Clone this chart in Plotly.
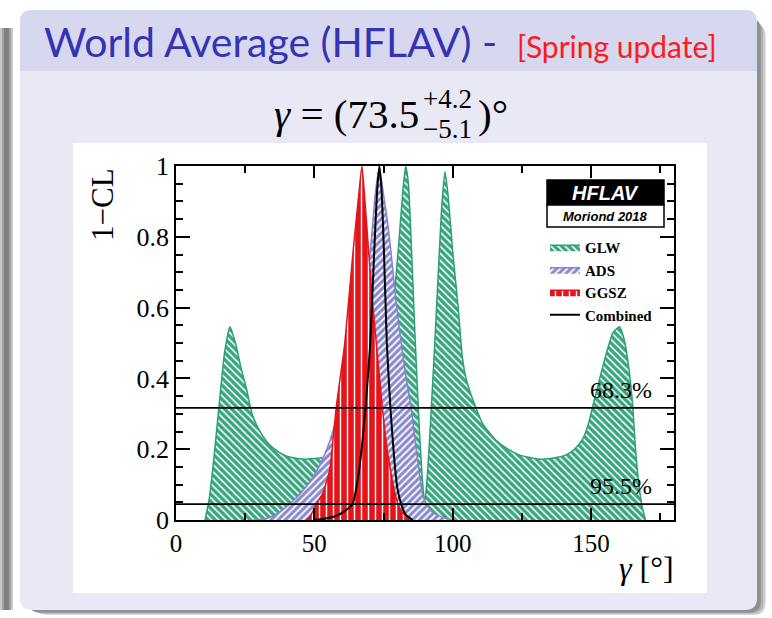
import plotly.graph_objects as go

W, H = 772, 618

# ---------------- data ----------------
glw_gamma = [10.5, 12, 13.5, 15.5, 17.5, 19.5, 21.5, 23.5, 25.5, 27.5, 30, 33, 36.5, 40, 46, 52,
             55.5, 59, 62.5, 66, 68.5, 70.5, 72.5, 74.5, 76.5, 78.5, 80.5, 82, 83, 84, 85.2, 86.5,
             88, 89, 89.8, 90.6, 91.6, 93, 94.5, 96, 97.2, 98.3, 100, 102, 103.5, 105, 108.4,
             111, 115.6, 120, 124, 131, 137, 141, 144, 146.8, 149, 150.5, 153, 155.5, 158, 160.3,
             162, 163.5, 165, 166, 167.3, 168.5, 169.7]
glw_cl = [0.0, 0.06, 0.16, 0.317, 0.47, 0.546, 0.5, 0.43, 0.37, 0.3, 0.255, 0.22, 0.195, 0.18, 0.172, 0.175,
          0.179, 0.188, 0.2, 0.22, 0.245, 0.275, 0.317, 0.39, 0.48, 0.6, 0.78, 0.93, 1.0, 0.95, 0.75, 0.5,
          0.25, 0.12, 0.05, 0.1, 0.22, 0.42, 0.65, 0.88, 0.984, 0.92, 0.76, 0.6, 0.46, 0.395, 0.317,
          0.27, 0.226, 0.2, 0.184, 0.172, 0.176, 0.184, 0.2, 0.226, 0.27, 0.317, 0.395, 0.47, 0.53, 0.546,
          0.51, 0.44, 0.33, 0.21, 0.1, 0.038, 0.0]

ads_gamma = [28, 33, 37, 41, 45, 49, 52, 55.5, 59, 62, 65.2, 68, 70.5, 72, 73.5, 75, 76.5, 77.8, 79.5,
             81.4, 83.2, 85, 86.5, 88, 89, 90.5, 93, 97, 100]
ads_cl = [0.0, 0.005, 0.02, 0.045, 0.075, 0.115, 0.155, 0.22, 0.317, 0.4, 0.5, 0.63, 0.78, 0.92, 0.995, 0.92,
          0.84, 0.75, 0.62, 0.5, 0.4, 0.317, 0.22, 0.13, 0.076, 0.045, 0.02, 0.006, 0.0]

ggsz_gamma = [47, 48.5, 50.7, 53, 55.5, 57.9, 61, 63.9, 66.2, 67.2, 68.3, 69.7, 71, 72.4, 74.6, 76.3,
              78, 79, 80.2, 82, 85.5]
ggsz_cl = [0.0, 0.01, 0.045, 0.075, 0.14, 0.317, 0.5, 0.75, 0.93, 1.0, 0.9, 0.75, 0.62, 0.5, 0.317, 0.2,
           0.12, 0.08, 0.045, 0.02, 0.0]

comb_gamma = [50, 54, 58, 61, 63.8, 66, 68.5, 70.2, 71.6, 72.7, 73.5, 74.3, 75.2, 76.2, 77.5, 78.8,
              80, 81.4, 83, 85.5]
comb_cl = [0.0, 0.004, 0.012, 0.025, 0.045, 0.13, 0.317, 0.5, 0.75, 0.93, 1.0, 0.93, 0.75, 0.5, 0.317,
           0.18, 0.09, 0.045, 0.015, 0.0]

series_names = ["GLW", "ADS", "GGSZ", "Combined"]
cl_levels = [0.317, 0.045]
cl_labels = ["68.3%", "95.5%"]
x_tickvals = [0, 50, 100, 150]
x_ticktext = ["0", "50", "100", "150"]
y_tickvals = [0, 0.2, 0.4, 0.6, 0.8, 1]
y_ticktext = ["0", "0.2", "0.4", "0.6", "0.8", "1"]

# ---------------- helpers ----------------
def px(x):
    return x / W

def py(y):
    return 1 - y / H

def rrect(x0, y0, x1, y1, r, bottom_round=True):
    s = f"M {px(x0 + r)},{py(y0)} L {px(x1 - r)},{py(y0)} Q {px(x1)},{py(y0)} {px(x1)},{py(y0 + r)} "
    if bottom_round:
        s += (f"L {px(x1)},{py(y1 - r)} Q {px(x1)},{py(y1)} {px(x1 - r)},{py(y1)} "
              f"L {px(x0 + r)},{py(y1)} Q {px(x0)},{py(y1)} {px(x0)},{py(y1 - r)} ")
    else:
        s += f"L {px(x1)},{py(y1)} L {px(x0)},{py(y1)} "
    s += f"L {px(x0)},{py(y0 + r)} Q {px(x0)},{py(y0)} {px(x0 + r)},{py(y0)} Z"
    return s

GREEN = "#2f9e78"
PURPLE = "#8484c8"
RED = "#e5141b"
SERIF = "Liberation Serif"

fig = go.Figure()

fig.add_trace(go.Scatter(
    x=glw_gamma, y=glw_cl, name=series_names[0], mode="lines",
    line=dict(color=GREEN, width=1.5, shape="spline", smoothing=0.5),
    fill="tozeroy",
    fillpattern=dict(shape="\\", bgcolor="#3aa680", fgcolor="white", size=5, solidity=0.3),
))
fig.add_trace(go.Scatter(
    x=ads_gamma, y=ads_cl, name=series_names[1], mode="lines",
    line=dict(color=PURPLE, width=1.5, shape="spline", smoothing=0.5),
    fill="tozeroy",
    fillpattern=dict(shape="/", bgcolor="#8a8acf", fgcolor="white", size=5, solidity=0.35),
))
fig.add_trace(go.Scatter(
    x=ggsz_gamma, y=ggsz_cl, name=series_names[2], mode="lines",
    line=dict(color=RED, width=1.5, shape="spline", smoothing=0.5),
    fill="tozeroy",
    fillpattern=dict(shape="|", bgcolor=RED, fgcolor="white", size=7, solidity=0.2),
))
fig.add_trace(go.Scatter(
    x=comb_gamma, y=comb_cl, name=series_names[3], mode="lines",
    line=dict(color="black", width=2, shape="spline", smoothing=0.6),
))

shapes = []
# slide frame (below everything)
for (x0, x1, c) in [(0, 13, "#c8c8c8"), (2, 11, "#a0a0a0"), (4, 9, "#808080")]:
    shapes.append(dict(type="rect", xref="paper", yref="paper", x0=px(x0), x1=px(x1),
                       y0=py(610), y1=py(28), fillcolor=c, line_width=0, layer="below"))
for (off, c) in [(12, "#d0d0d0"), (9, "#b0b0b0"), (6, "#909090")]:
    shapes.append(dict(type="path", xref="paper", yref="paper",
                       path=rrect(22 + off, 12 + off, 756 + off * 0.8, 610 + off * 0.4, 12),
                       fillcolor=c, line_width=0, layer="below"))
shapes.append(dict(type="path", xref="paper", yref="paper", path=rrect(20, 10, 757, 610, 12),
                   fillcolor="#e9e9f5", line_width=0, layer="below"))
shapes.append(dict(type="path", xref="paper", yref="paper", path=rrect(20, 10, 757, 71, 12, bottom_round=False),
                   fillcolor="#d7d7ef", line_width=0, layer="below"))
shapes.append(dict(type="rect", xref="paper", yref="paper", x0=px(73), x1=px(707), y0=py(593), y1=py(143),
                   fillcolor="white", line_width=0, layer="below"))

# CL reference lines
for lev in cl_levels:
    shapes.append(dict(type="line", xref="x", yref="y", x0=0, x1=180, y0=lev, y1=lev,
                       line=dict(color="black", width=1.7), layer="above"))

# HFLAV badge
shapes.append(dict(type="rect", xref="paper", yref="paper", x0=px(547), x1=px(664), y0=py(205), y1=py(180),
                   fillcolor="black", line=dict(color="black", width=1.5)))
shapes.append(dict(type="rect", xref="paper", yref="paper", x0=px(547), x1=px(664), y0=py(227), y1=py(205),
                   fillcolor="white", line=dict(color="black", width=1.5)))

annotations = []

def ann(text, x, y, size, color="black", family=SERIF, xanchor="center", yanchor="middle", angle=0):
    annotations.append(dict(text=text, x=px(x), y=py(y), xref="paper", yref="paper", showarrow=False,
                            xanchor=xanchor, yanchor=yanchor, textangle=angle,
                            font=dict(size=size, color=color, family=family)))

# slide title
ann("World Average (HFLAV) -", 42, 42, 41, color="#3333b3", family="Lato", xanchor="left")
ann("[Spring update]", 515, 46, 30, color="#ff1a1a", family="Lato", xanchor="left")

# formula
ann("<i>γ</i> = (73.5", 421, 114, 41, xanchor="right")
ann("+4.2", 421, 99, 27, xanchor="left")
ann("−5.1", 421, 129, 27, xanchor="left")
ann(")°", 476, 114, 41, xanchor="left")

# badge text
ann("<b><i>HFLAV</i></b>", 605, 193, 20, color="white", family="Liberation Sans")
ann("<b><i>Moriond 2018</i></b>", 605, 216, 13, color="black", family="Liberation Sans")

# axis titles
ann("1−CL", 102, 205, 31, angle=-90)
ann("<i>γ</i> [°]", 676, 568, 32, xanchor="right")

# CL labels
for lev, lab in zip(cl_levels, cl_labels):
    ypix = 520 - lev * 354
    ann(lab, 654, ypix - 3, 24, xanchor="right", yanchor="bottom")

fig.update_layout(
    template="none",
    width=W, height=H,
    margin=dict(l=0, r=0, t=0, b=0, pad=0, autoexpand=False),
    paper_bgcolor="white",
    plot_bgcolor="rgba(0,0,0,0)",
    shapes=shapes,
    annotations=annotations,
    showlegend=True,
    legend=dict(x=px(545), y=py(231), xanchor="left", yanchor="top",
                font=dict(family=SERIF, size=15, color="black", weight="bold"),
                bgcolor="rgba(0,0,0,0)", borderwidth=0, tracegroupgap=0,
                itemwidth=30),
    xaxis=dict(range=[0, 180], domain=[px(176), px(674)], tickvals=x_tickvals, ticktext=x_ticktext,
               ticks="inside", ticklen=12, tickwidth=1.5, tickcolor="black", automargin=False,
               minor=dict(tick0=0, dtick=25, ticks="inside", ticklen=7, tickwidth=1.5, tickcolor="black"),
               showline=True, linecolor="black", linewidth=1.5, mirror="allticks",
               showgrid=False, zeroline=False,
               tickfont=dict(family=SERIF, size=25, color="black")),
    yaxis=dict(range=[0, 1], domain=[py(520), py(166)], tickvals=y_tickvals, ticktext=y_ticktext,
               ticks="inside", ticklen=14, tickwidth=1.5, tickcolor="black", automargin=False,
               minor=dict(tick0=0, dtick=0.05, ticks="inside", ticklen=7, tickwidth=1.5, tickcolor="black"),
               showline=True, linecolor="black", linewidth=1.5, mirror="allticks",
               showgrid=False, zeroline=False,
               tickfont=dict(family=SERIF, size=26, color="black")),
)

fig.write_html("out.html")
